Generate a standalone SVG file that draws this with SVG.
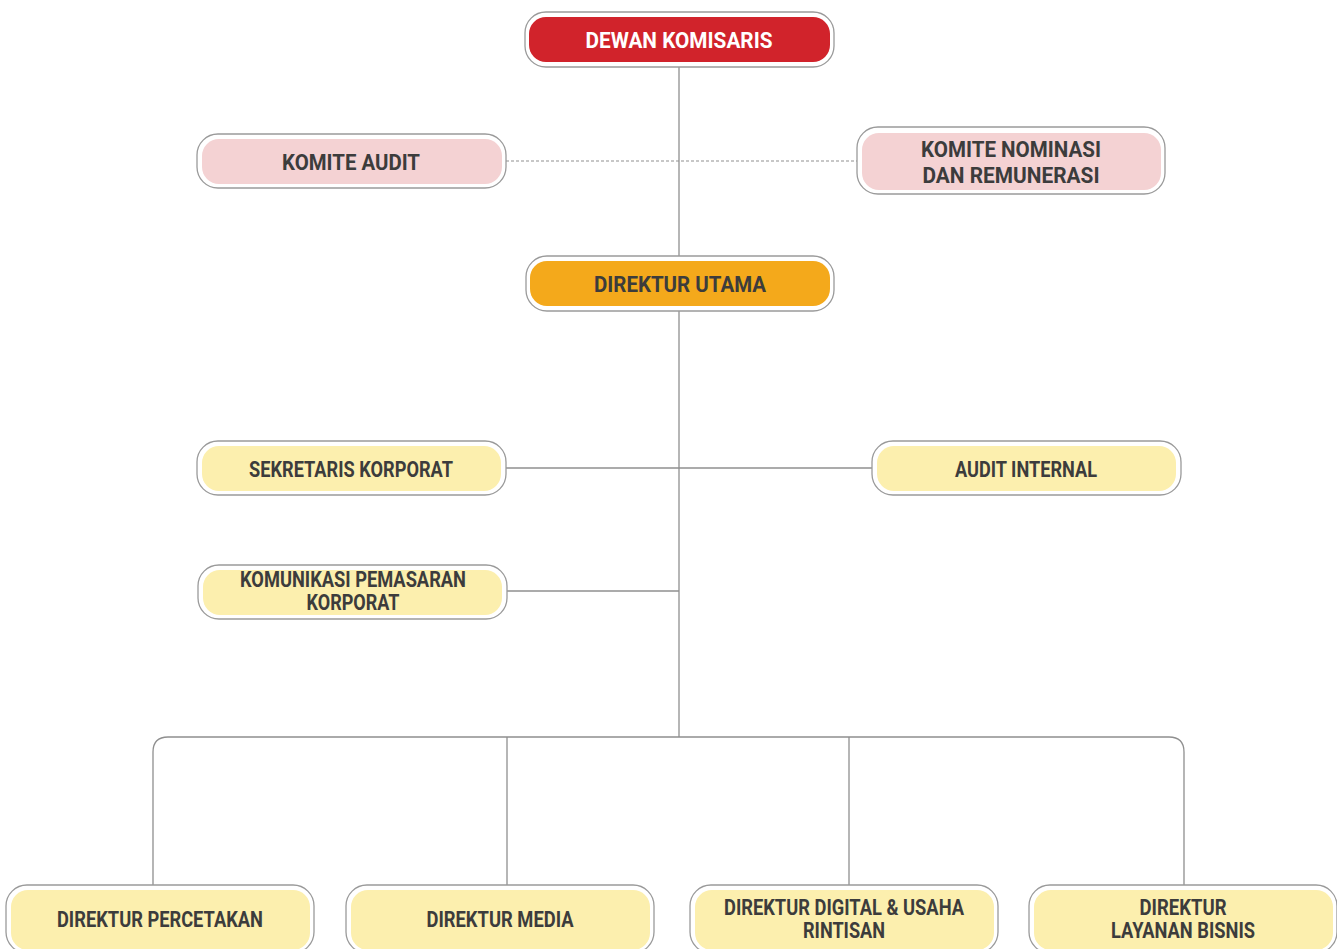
<svg xmlns="http://www.w3.org/2000/svg" width="1337" height="949" viewBox="0 0 1337 949">
<style>
.outer{fill:#ffffff;stroke:#9a9a9a;stroke-width:1.3}
.red{fill:#d1232b}
.pink{fill:#f4d2d3}
.orange{fill:#f4a91b}
.yellow{fill:#fcefae}
.t{font-family:Roboto,"Liberation Sans",sans-serif;font-weight:bold;font-size:22px;fill:#3c3c3c;text-anchor:middle}
.w{fill:#ffffff}
.ln{fill:none;stroke:#8f8f8f;stroke-width:1.3}
.dash{fill:none;stroke:#8f8f8f;stroke-width:1.2;stroke-dasharray:3 2}
</style>
<rect width="1337" height="949" fill="#ffffff"/>
<g id="connectors">
<line class="ln" x1="679" y1="67" x2="679" y2="737"/>
<line class="dash" x1="506" y1="161" x2="857" y2="161"/>
<line class="ln" x1="506" y1="468" x2="872" y2="468"/>
<line class="ln" x1="507" y1="591" x2="679" y2="591"/>
<path class="ln" d="M153 885 V752 Q153 737 168 737 H1169 Q1184 737 1184 752 V885"/>
<line class="ln" x1="507" y1="737" x2="507" y2="885"/>
<line class="ln" x1="849" y1="737" x2="849" y2="885"/>
</g>
<g id="dewan-komisaris">
<rect class="outer" x="525" y="12" width="309" height="55" rx="21"/>
<rect class="red" x="529" y="17" width="301" height="45" rx="17"/>
<text class="t w" x="679" y="48" textLength="187" lengthAdjust="spacingAndGlyphs" font-size="23">DEWAN KOMISARIS</text>
</g>
<g id="komite-audit">
<rect class="outer" x="197" y="134" width="309" height="54" rx="21"/>
<rect class="pink" x="202" y="139" width="300" height="45" rx="17"/>
<text class="t" x="351" y="170" textLength="138" lengthAdjust="spacingAndGlyphs" font-size="23">KOMITE AUDIT</text>
</g>
<g id="komite-nominasi">
<rect class="outer" x="857" y="127" width="308" height="67" rx="21"/>
<rect class="pink" x="862" y="133" width="299" height="57" rx="17"/>
<text class="t" x="1011" y="157" textLength="180" lengthAdjust="spacingAndGlyphs" font-size="23">KOMITE NOMINASI</text>
<text class="t" x="1011" y="183" textLength="177" lengthAdjust="spacingAndGlyphs" font-size="23">DAN REMUNERASI</text>
</g>
<g id="direktur-utama">
<rect class="outer" x="526" y="256" width="308" height="55" rx="21"/>
<rect class="orange" x="530" y="261" width="300" height="45" rx="17"/>
<text class="t" x="680" y="292" textLength="172" lengthAdjust="spacingAndGlyphs" font-size="23">DIREKTUR UTAMA</text>
</g>
<g id="sekretaris-korporat">
<rect class="outer" x="197" y="441" width="309" height="54" rx="21"/>
<rect class="yellow" x="202" y="446" width="299" height="45" rx="17"/>
<text class="t" x="351" y="477" textLength="204" lengthAdjust="spacingAndGlyphs" font-size="22">SEKRETARIS KORPORAT</text>
</g>
<g id="audit-internal">
<rect class="outer" x="872" y="441" width="309" height="54" rx="21"/>
<rect class="yellow" x="877" y="446" width="299" height="45" rx="17"/>
<text class="t" x="1026" y="477" textLength="142" lengthAdjust="spacingAndGlyphs" font-size="22">AUDIT INTERNAL</text>
</g>
<g id="komunikasi-pemasaran">
<rect class="outer" x="198" y="565" width="309" height="54" rx="21"/>
<rect class="yellow" x="203" y="570" width="299" height="45" rx="17"/>
<text class="t" x="353" y="587" textLength="226" lengthAdjust="spacingAndGlyphs" font-size="20">KOMUNIKASI PEMASARAN</text>
<text class="t" x="353" y="610" textLength="93" lengthAdjust="spacingAndGlyphs" font-size="20">KORPORAT</text>
</g>
<g id="direktur-percetakan">
<rect class="outer" x="6" y="885" width="308" height="68" rx="21"/>
<rect class="yellow" x="11" y="890" width="299" height="60" rx="17"/>
<text class="t" x="160" y="927" textLength="206" lengthAdjust="spacingAndGlyphs" font-size="22">DIREKTUR PERCETAKAN</text>
</g>
<g id="direktur-media">
<rect class="outer" x="346" y="885" width="308" height="68" rx="21"/>
<rect class="yellow" x="351" y="890" width="299" height="60" rx="17"/>
<text class="t" x="500" y="927" textLength="147" lengthAdjust="spacingAndGlyphs" font-size="22">DIREKTUR MEDIA</text>
</g>
<g id="direktur-digital">
<rect class="outer" x="690" y="885" width="308" height="68" rx="21"/>
<rect class="yellow" x="695" y="890" width="299" height="60" rx="17"/>
<text class="t" x="844" y="915" textLength="240" lengthAdjust="spacingAndGlyphs" font-size="21">DIREKTUR DIGITAL &amp; USAHA</text>
<text class="t" x="844" y="938" textLength="82" lengthAdjust="spacingAndGlyphs" font-size="21">RINTISAN</text>
</g>
<g id="direktur-layanan-bisnis">
<rect class="outer" x="1029" y="885" width="308" height="68" rx="21"/>
<rect class="yellow" x="1034" y="890" width="299" height="60" rx="17"/>
<text class="t" x="1183" y="915" textLength="87" lengthAdjust="spacingAndGlyphs" font-size="21">DIREKTUR</text>
<text class="t" x="1183" y="938" textLength="144" lengthAdjust="spacingAndGlyphs" font-size="21">LAYANAN BISNIS</text>
</g>
</svg>
